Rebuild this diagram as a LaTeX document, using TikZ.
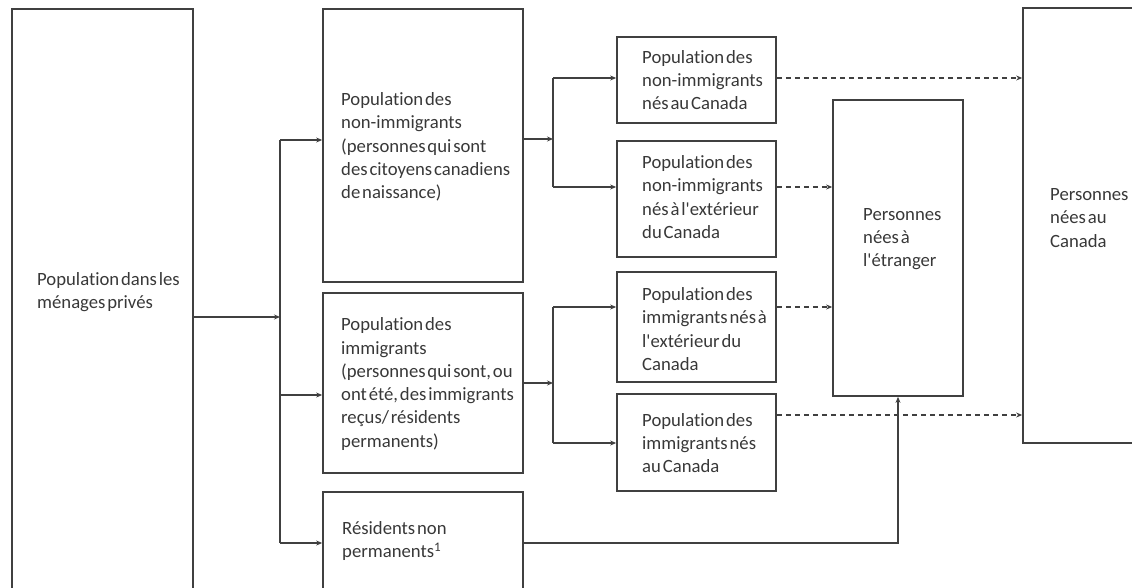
\documentclass[tikz,border=0pt]{standalone}
\usepackage{fontspec}
\setmainfont{Carlito}[Ligatures={NoCommon}]
\usetikzlibrary{arrows.meta}
\newcommand\myboxfont{\fontsize{18.7}{23.3}\selectfont\spaceskip 0.1em plus 0.03em\relax}
\begin{document}
\begin{tikzpicture}[x=1pt,y=-1pt,
  box/.style={draw=black!75, line width=1.7pt, inner sep=0pt},
  txt/.style={inner sep=0pt, anchor=west, align=left, text=black!78,
    font=\myboxfont},
  link/.style={draw=black!75, line width=1.3pt},
  arr/.style={link, -{Stealth[length=6pt,width=5pt]}},
  darr/.style={arr, dash pattern=on 5pt off 4pt}]
\useasboundingbox (0,0) rectangle (1132,588);
\clip (0,0) rectangle (1132,588);

% boxes
\node[box, minimum width=181pt, minimum height=611pt] (A) at (102.5,314.5) {};
\node[box, minimum width=200pt, minimum height=273pt] (B2) at (423,145.5) {};
\node[box, minimum width=200pt, minimum height=180pt] (B3) at (423,383) {};
\node[box, minimum width=200pt, minimum height=128pt] (B4) at (423,556) {};
\node[box, minimum width=159pt, minimum height=86pt] (B5) at (696.5,80) {};
\node[box, minimum width=159pt, minimum height=116pt] (B6) at (696.5,199) {};
\node[box, minimum width=159pt, minimum height=110pt] (B7) at (696.5,327) {};
\node[box, minimum width=159pt, minimum height=97pt] (B8) at (696.5,442.5) {};
\node[box, minimum width=130pt, minimum height=296pt] (B9) at (898,248) {};
\node[box, minimum width=137pt, minimum height=435pt] (B10) at (1091.5,225.5) {};

% texts
\node[txt] (tA) at (37,292) {Population dans les\\ménages privés};
\node[txt] (t2) at (341,147) {Population des\\non-immigrants\\(personnes qui sont\\des citoyens canadiens\\de naissance)};
\node[txt] (t3) at (341,384) {Population des\\immigrants\\(personnes qui sont, ou\\ont été, des immigrants\\reçus/ résidents\\permanents)};
\node[txt] (t4) at (342,541) {Résidents non\\permanents\textsuperscript{1}};
\node[txt] (t5) at (642,80) {Population des\\non-immigrants\\nés au Canada};
\node[txt] (t6) at (642,197) {Population des\\non-immigrants\\nés à l\textquotesingle extérieur\\du Canada};
\node[txt] (t7) at (642,329) {Population des\\immigrants nés à\\l\textquotesingle extérieur du\\Canada};
\node[txt] (t8) at (642,443) {Population des\\immigrants nés\\au Canada};
\node[txt] (t9) at (863,239) {Personnes\\nées à\\l\textquotesingle étranger};
\node[txt] (t10) at (1050,218) {Personnes\\nées au\\Canada};

% junction coordinates
\coordinate (v1t) at (280,140);
\coordinate (v1m) at (280,317);
\coordinate (v1c) at (280,395);
\coordinate (v1b) at (280,543);
\coordinate (v2t) at (553,78);
\coordinate (v2m) at (553,139);
\coordinate (v2b) at (553,187);
\coordinate (v3t) at (553,307);
\coordinate (v3m) at (553,383);
\coordinate (v3b) at (553,443);
\coordinate (r415) at (0,415);

% solid connectors
\draw[arr] (A.east |- v1m) -- (v1m);
\draw[link] (v1t) -- (v1b);
\draw[arr] (v1t) -- (B2.west |- v1t);
\draw[arr] (v1c) -- (B3.west |- v1c);
\draw[arr] (v1b) -- (B4.west |- v1b);

\draw[arr] (B2.east |- v2m) -- (v2m);
\draw[link] (v2t) -- (v2b);
\draw[arr] (v2t) -- (B5.west |- v2t);
\draw[arr] (v2b) -- (B6.west |- v2b);

\draw[arr] (B3.east |- v3m) -- (v3m);
\draw[link] (v3t) -- (v3b);
\draw[arr] (v3t) -- (B7.west |- v3t);
\draw[arr] (v3b) -- (B8.west |- v3b);

\draw[arr] (B4.east |- v1b) -| (B9.south);

% dashed connectors
\draw[darr] (B5.east |- v2t) -- (B10.west |- v2t);
\draw[darr] (B6.east |- v2b) -- (B9.west |- v2b);
\draw[darr] (B7.east |- v3t) -- (B9.west |- v3t);
\draw[darr] (B8.east |- r415) -- (B10.west |- r415);
\end{tikzpicture}
\end{document}
